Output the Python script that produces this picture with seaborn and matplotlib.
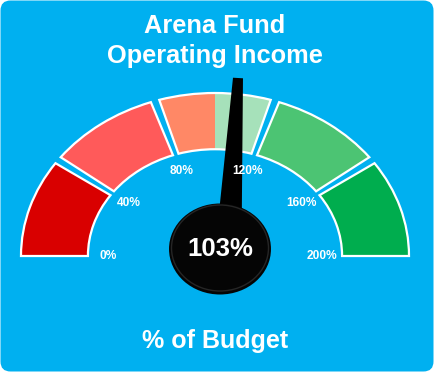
import numpy as np
import matplotlib
matplotlib.use("Agg")
import matplotlib.pyplot as plt
from matplotlib.patches import Wedge, Ellipse, Polygon, FancyBboxPatch
from matplotlib.transforms import IdentityTransform
import seaborn as sns

# ---- gauge data ----
band_edges = [0, 40, 80, 120, 160, 200]
band_colors = ["#D90000", "#FF5A5A", "#FF8866", "#4CC473", "#00AD4E"]
split_value = 100                      # middle band is split at target
split_colors = ["#FF8866", "#A6E1BA"]
tick_values = [0, 40, 80, 120, 160, 200]
tick_labels = ["0%", "40%", "80%", "120%", "160%", "200%"]
actual_pct = 103
title_lines = ["Arena Fund", "Operating Income"]
footer_text = "% of Budget"

sns.set_theme(style="white")
plt.rcParams["font.family"] = ["Liberation Sans", "DejaVu Sans"]
palette = sns.color_palette(band_colors)
split_pal = sns.color_palette(split_colors)

W, H, DPI = 434, 372, 100
fig = plt.figure(figsize=(W / DPI, H / DPI), dpi=DPI)
fig.patch.set_facecolor("white")

# rounded blue card behind everything
card = FancyBboxPatch((0.5, 0.5), W - 1, H - 1,
                      boxstyle="round,pad=0,rounding_size=10",
                      transform=IdentityTransform(),
                      facecolor="#00B0F0", edgecolor="none", zorder=-5)
fig.patches.append(card)

# gauge geometry (pixels): centre and radii of the stretched dial
cx, cy = 215, 256
sx, sy = 194, 163
ax = fig.add_axes([0, 0, 1, 1])
ax.set_zorder(1)
ax.set_xlim(-cx / sx, (W - cx) / sx)
ax.set_ylim(-(H - cy) / sy, cy / sy)
ax.set_facecolor("none")
ax.patch.set_alpha(0)
ax.axis("off")

r_out, ring_w = 1.0, 0.345
gap = 1.3


def ang(v):
    return 180.0 - v * 180.0 / 200.0


n = len(band_edges) - 1
for i in range(n):
    lo, hi = band_edges[i], band_edges[i + 1]
    t2 = ang(lo) - (gap if lo > band_edges[0] else 0)
    t1 = ang(hi) + (gap if hi < band_edges[-1] else 0)
    if lo < split_value < hi:
        ax.add_patch(Wedge((0, 0), r_out, ang(split_value), t2, width=ring_w,
                           facecolor=split_pal[0], edgecolor="none", zorder=2))
        ax.add_patch(Wedge((0, 0), r_out, t1, ang(split_value), width=ring_w,
                           facecolor=split_pal[1], edgecolor="none", zorder=2))
        ax.add_patch(Wedge((0, 0), r_out, t1, t2, width=ring_w, fill=False,
                           edgecolor="white", linewidth=1.6, zorder=3))
    else:
        ax.add_patch(Wedge((0, 0), r_out, t1, t2, width=ring_w,
                           facecolor=palette[i], edgecolor="white",
                           linewidth=1.6, zorder=2))

# scale labels inside the ring (drawn over the needle)
r_lab = 0.55
for v, lab in zip(tick_values, tick_labels):
    a = np.radians(ang(v))
    ax.text(r_lab * np.cos(a), r_lab * np.sin(a), lab, color="white",
            fontsize=8.6, fontweight="bold", ha="center", va="center", zorder=9)

# needle (worked out in pixel space, then mapped back to data units)
theta = np.radians(ang(actual_pct))
d = np.array([np.cos(theta) * sx, np.sin(theta) * sy])
d /= np.hypot(*d)
p = np.array([-d[1], d[0]])
pivot = np.array([13.0, 0.0])
tip_len = 178.0 / d[1]
base_len = 20.0
base = pivot + d * base_len
tip = pivot + d * tip_len
hb, ht = 12.5, 5.0
pts_px = [base + p * hb, tip + p * ht, tip - p * ht, base - p * hb]
pts = [(q[0] / sx, q[1] / sy) for q in pts_px]
ax.add_patch(Polygon(pts, closed=True, facecolor="black", edgecolor="none",
                     zorder=5))

# hub with the value
hx, hy = 5 / sx, 7 / sy
ax.add_patch(Ellipse((hx, hy), 102 / sx, 91 / sy, facecolor="#050505",
                     edgecolor="none", zorder=6))
ax.add_patch(Ellipse((hx, hy + 1 / sy), 97 / sx, 86 / sy, facecolor="none",
                     edgecolor="#262626", linewidth=1.0, zorder=7))
ax.text(hx, hy, f"{actual_pct}%", color="white", fontsize=18.5,
        fontweight="bold", ha="center", va="center", zorder=8)

# titles
for k, line in enumerate(title_lines):
    fig.text(215 / W, 1 - (26 + 30 * k) / H, line, color="white",
             fontsize=18.3, fontweight="bold", ha="center", va="center",
             zorder=3)
fig.text(215 / W, 1 - 341 / H, footer_text, color="white", fontsize=18,
         fontweight="bold", ha="center", va="center", zorder=3)

fig.savefig("out.png", dpi=DPI, facecolor="white")
